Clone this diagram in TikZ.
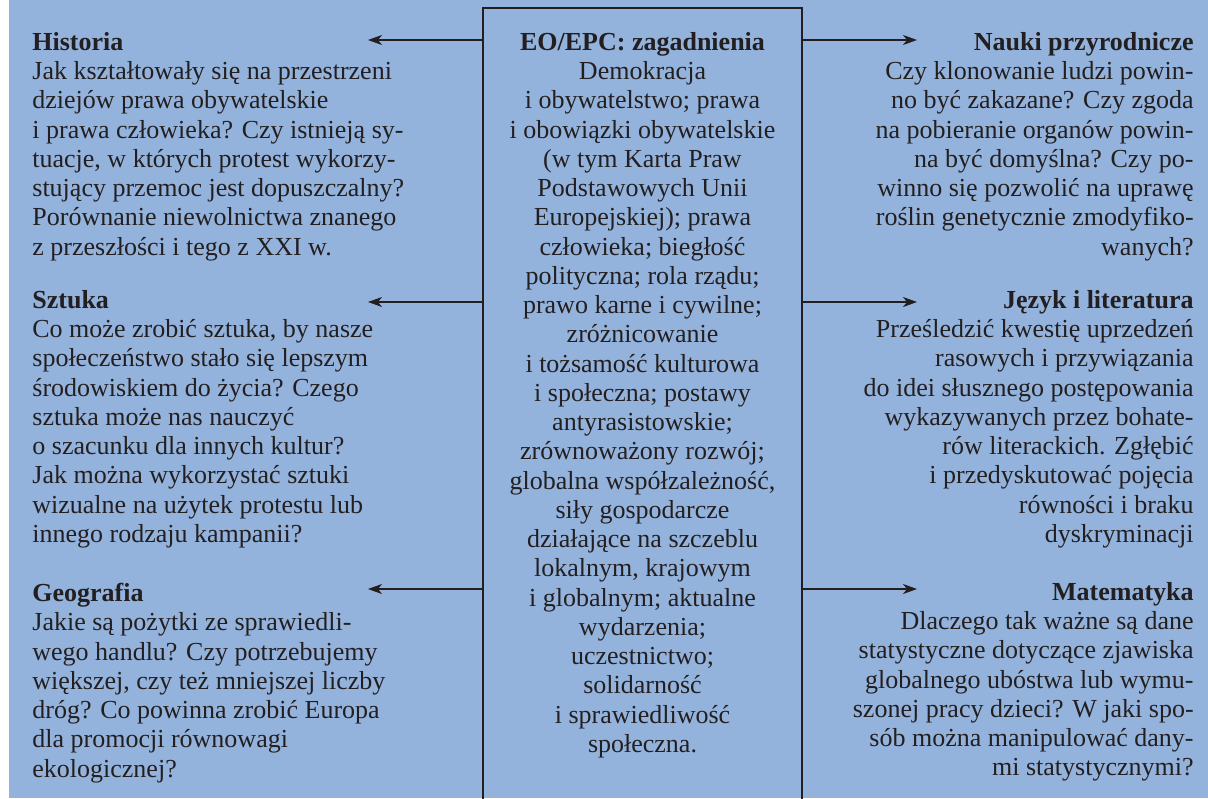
\documentclass[tikz,border=0pt]{standalone}
\usepackage{fontspec}
\setmainfont{Liberation Serif}
\usetikzlibrary{arrows.meta}
\definecolor{tlo}{RGB}{148,179,220}
\definecolor{tusz}{RGB}{35,31,32}

\begin{document}
\begin{tikzpicture}[
        x=0.5pt, y=-0.5pt, % 1 единица = 1 пиксель
        tekst/.style={inner sep=0pt, text=tusz, font=\fontsize{13}{14.625}\selectfont},
        lewy/.style={tekst, anchor=north west, align=left}, % Левая колонка
        prawy/.style={tekst, anchor=north east, align=right}, % Правая колонка
        ramka/.style={draw=tusz, line width=0.75pt, minimum width=159.5pt, minimum height=420pt, anchor=north, inner sep=0pt},
        strzalka/.style={draw=tusz, line width=0.6pt, -{Stealth[length=7pt, width=5pt, inset=2pt]}},
    ]

    \useasboundingbox (0,0) rectangle (1208,798);
    \fill[tlo] (9,0) rectangle (1208,798); % Фон

    \node[ramka] (ramka) at (642.5,7) {};
    \node[tekst, anchor=north, align=center] (tematy) at (642.5,32) {\textbf{EO/EPC: zagadnienia}\\
        Demokracja\\i obywatelstwo; prawa\\i obowiązki obywatelskie\\(w tym Karta Praw\\Podstawowych Unii\\
        Europejskiej); prawa\\człowieka; biegłość\\polityczna; rola rządu;\\prawo karne i cywilne;\\
        zróżnicowanie\\i tożsamość kulturowa\\i społeczna; postawy\\antyrasistowskie;\\
        zrównoważony rozwój;\\globalna współzależność,\\siły gospodarcze\\działające na szczeblu\\
        lokalnym, krajowym\\i globalnym; aktualne\\wydarzenia;\\uczestnictwo;\\solidarność\\
        i sprawiedliwość\\społeczna.};

    % Левая сторона
    \node[lewy] (historia) at (32,32) {\textbf{Historia}\\
        Jak kształtowały się na przestrzeni\\dziejów prawa obywatelskie\\
        i prawa człowieka? Czy istnieją sy-\\tuacje, w których protest wykorzy-\\
        stujący przemoc jest dopuszczalny?\\Porównanie niewolnictwa znanego\\
        z przeszłości i tego z XXI w.};
    \node[lewy] (sztuka) at (32,290) {\textbf{Sztuka}\\
        Co może zrobić sztuka, by nasze\\społeczeństwo stało się lepszym\\
        środowiskiem do życia? Czego\\sztuka może nas nauczyć\\
        o szacunku dla innych kultur?\\Jak można wykorzystać sztuki\\
        wizualne na użytek protestu lub\\innego rodzaju kampanii?};
    \node[lewy] (geografia) at (32,583) {\textbf{Geografia}\\
        Jakie są pożytki ze sprawiedli-\\wego handlu? Czy potrzebujemy\\
        większej, czy też mniejszej liczby\\dróg? Co powinna zrobić Europa\\
        dla promocji równowagi\\ekologicznej?};

    % Правая сторона
    \node[prawy] (nauki) at (1194,32) {\textbf{Nauki przyrodnicze}\\
        Czy klonowanie ludzi powin-\\no być zakazane? Czy zgoda\\
        na pobieranie organów powin-\\na być domyślna? Czy po-\\
        winno się pozwolić na uprawę\\roślin genetycznie zmodyfiko-\\
        wanych?};
    \node[prawy] (jezyk) at (1194,290) {\textbf{Język i literatura}\\
        Prześledzić kwestię uprzedzeń\\rasowych i przywiązania\\
        do idei słusznego postępowania\\wykazywanych przez bohate-\\
        rów literackich. Zgłębić\\i przedyskutować pojęcia\\
        równości i braku\\dyskryminacji};
    \node[prawy] (matematyka) at (1194,582) {\textbf{Matematyka}\\
        Dlaczego tak ważne są dane\\statystyczne dotyczące zjawiska\\
        globalnego ubóstwa lub wymu-\\szonej pracy dzieci? W jaki spo-\\
        sób można manipulować dany-\\mi statystycznymi?};

    % Концы стрелок
    \coordinate (h) at (368,40);
    \coordinate (s) at (368,302);
    \coordinate (g) at (368,589);
    \coordinate (n) at (917,40);
    \coordinate (j) at (917,302);
    \coordinate (m) at (917,589);

    \draw[strzalka] (ramka.west |- h) -- (h);
    \draw[strzalka] (ramka.west |- s) -- (s);
    \draw[strzalka] (ramka.west |- g) -- (g);
    \draw[strzalka] (ramka.east |- n) -- (n);
    \draw[strzalka] (ramka.east |- j) -- (j);
    \draw[strzalka] (ramka.east |- m) -- (m);
\end{tikzpicture}
\end{document}
